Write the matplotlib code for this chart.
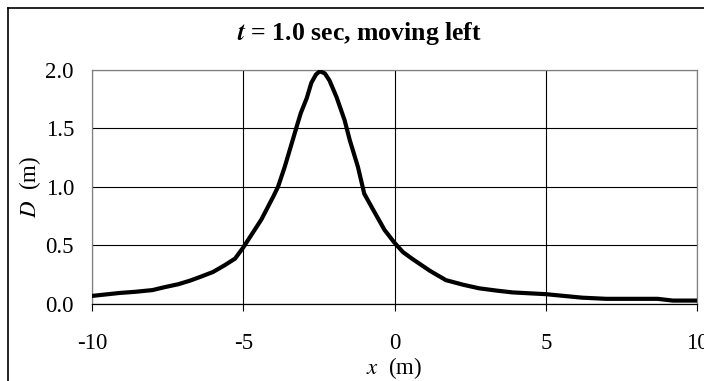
import matplotlib
matplotlib.use("Agg")
import matplotlib.pyplot as plt
from matplotlib.lines import Line2D

plt.rcParams["font.family"] = ["Liberation Serif", "DejaVu Serif"]
plt.rcParams["mathtext.fontset"] = "stix"

# Wave profile D(x) at t = 1.0 s
x_m = [-10.0, -9.1, -8.58, -8.0, -7.6, -7.15, -6.77, -6.4, -6.0, -5.6, -5.27,
       -5.0, -4.4, -4.0, -3.85, -3.63, -3.4, -3.24, -3.1, -2.9, -2.75, -2.6,
       -2.47, -2.3, -2.15, -1.92, -1.65, -1.48, -1.21, -1.0, -0.7, -0.33, 0.0,
       0.28, 0.6, 1.17, 1.7, 2.28, 2.8, 3.39, 3.9, 5.0, 6.2, 7.0, 8.7, 9.2,
       10.0]
depth_m = [0.065, 0.09, 0.10, 0.115, 0.14, 0.165, 0.195, 0.23, 0.27, 0.33,
           0.385, 0.48, 0.72, 0.92, 1.0, 1.17, 1.37, 1.51, 1.63, 1.76, 1.89,
           1.96, 1.99, 1.97, 1.91, 1.77, 1.57, 1.40, 1.17, 0.94, 0.80, 0.63,
           0.52, 0.44, 0.38, 0.28, 0.20, 0.16, 0.13, 0.11, 0.095, 0.08, 0.05,
           0.04, 0.04, 0.025, 0.025]

x_ticks = [-10, -5, 0, 5, 10]
y_ticks = [0.0, 0.5, 1.0, 1.5, 2.0]

fig = plt.figure(figsize=(7.04, 3.81), dpi=100)
ax = fig.add_axes([0.1307, 0.2034, 0.8594, 0.6129])

ax.plot(x_m, depth_m, color="black", lw=3, solid_joinstyle="round",
        solid_capstyle="round", zorder=3)

ax.set_xlim(-10, 10)
ax.set_ylim(0, 2)
ax.set_xticks(x_ticks)
ax.set_xticklabels(["%d" % v for v in x_ticks])
ax.set_yticks(y_ticks)
ax.set_yticklabels(["%.1f" % v for v in y_ticks])
ax.grid(True, color="black", lw=0.8)
ax.set_axisbelow(True)

ax.tick_params(axis="x", direction="out", length=5, width=0.8, pad=16,
               labelsize=16.5)
ax.tick_params(axis="y", length=0, pad=13, labelsize=16.5)

for side in ("left", "top", "right"):
    ax.spines[side].set_color("#808080")
    ax.spines[side].set_linewidth(0.9)
ax.spines["bottom"].set_color("black")
ax.spines["bottom"].set_linewidth(0.9)

ax.set_xlabel(r"$x$  (m)", fontsize=16.5, labelpad=1)
ax.set_ylabel(r"$D$  (m)", fontsize=16.5, labelpad=1.5)

fig.text(0.511, 0.913, r"$\mathbfit{t}$ = 1.0 sec, moving left",
         ha="center", va="center", fontsize=18.5, fontweight="bold")

# chart-area border (runs past the right and bottom edges)
fig.add_artist(Line2D([8 / 704, 8 / 704], [1 - 8 / 381, -0.1],
                      transform=fig.transFigure, color="black", lw=1.2))
fig.add_artist(Line2D([8 / 704, 1.1], [1 - 8 / 381, 1 - 8 / 381],
                      transform=fig.transFigure, color="black", lw=1.2))

fig.savefig("out.png", dpi=100)
